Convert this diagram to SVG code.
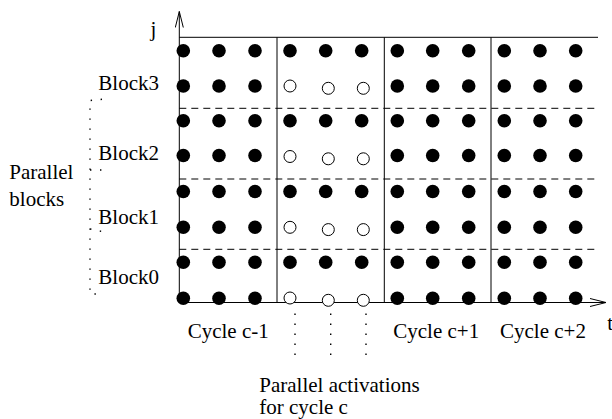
<svg xmlns="http://www.w3.org/2000/svg" xmlns:xlink="http://www.w3.org/1999/xlink" width="612" height="419" viewBox="0 0 612 419">
<style>
.ln{stroke:#000;stroke-width:1;fill:none}
.dash{stroke:#000;stroke-width:1;fill:none;stroke-dasharray:7 5}
.dot{stroke:#000;stroke-width:1.4;fill:none;stroke-dasharray:1.4 8.6}
.t{font-family:"Liberation Serif","Times New Roman",serif;font-size:21px;fill:#000}
.f{fill:#000}
.o{fill:#fff;stroke:#000;stroke-width:1}
</style>
<defs>
<marker id="ah" viewBox="0 0 17 9" refX="16.5" refY="4.5" markerWidth="17" markerHeight="9" markerUnits="userSpaceOnUse" orient="auto">
<path d="M0.5,0.5 L16.5,4.5 L0.5,8.5" fill="none" stroke="#000" stroke-width="1"/>
</marker>
<circle id="fd" class="f" r="6.8"/>
<circle id="od" class="o" r="6"/>
</defs>
<rect width="612" height="419" fill="#fff"/>
<g id="connectors">
<path class="ln" d="M179.3,302.5 L179.3,11.5" marker-end="url(#ah)"/>
<path class="ln" d="M179.3,302.5 L606,302.5" marker-end="url(#ah)"/>
<path class="ln" d="M179.3,37.3 L598,37.3"/>
<path class="ln" d="M277,37.3 L277,302.5 M384.3,37.3 L384.3,302.5 M491,37.3 L491,302.5"/>
<path class="dash" d="M179.3,108.3 L598,108.3 M179.3,179 L598,179 M179.3,249.3 L598,249.3"/>
<path class="dot" d="M102,99.3 L90,100.5 L90,294 L102,294 M90,170 L102,170 M90,229 L102,231.5"/>
<path class="dot" d="M295,313.5 L295,355 M330.7,313.5 L330.7,355 M366,313.5 L366,355"/>
</g>
<g id="cycle-c-1">
<use href="#fd" x="183.3" y="50.7"/><use href="#fd" x="219" y="50.7"/><use href="#fd" x="255" y="50.7"/>
<use href="#fd" x="183.3" y="86"/><use href="#fd" x="219" y="86"/><use href="#fd" x="255" y="86"/>
<use href="#fd" x="183.3" y="120.7"/><use href="#fd" x="219" y="120.7"/><use href="#fd" x="255" y="120.7"/>
<use href="#fd" x="183.3" y="155.5"/><use href="#fd" x="219" y="155.5"/><use href="#fd" x="255" y="155.5"/>
<use href="#fd" x="183.3" y="191.5"/><use href="#fd" x="219" y="191.5"/><use href="#fd" x="255" y="191.5"/>
<use href="#fd" x="183.3" y="227.3"/><use href="#fd" x="219" y="227.3"/><use href="#fd" x="255" y="227.3"/>
<use href="#fd" x="183.3" y="262.3"/><use href="#fd" x="219" y="262.3"/><use href="#fd" x="255" y="262.3"/>
<use href="#fd" x="183.3" y="298.3"/><use href="#fd" x="219" y="298.3"/><use href="#fd" x="255" y="298.3"/>
</g>
<g id="cycle-c">
<use href="#fd" x="290" y="50.7"/><use href="#fd" x="325.7" y="50.7"/><use href="#fd" x="361.7" y="50.7"/>
<use href="#od" x="290" y="86"/><use href="#od" x="328.3" y="88.3"/><use href="#od" x="363.3" y="88.3"/>
<use href="#fd" x="290" y="120.7"/><use href="#fd" x="325.7" y="120.7"/><use href="#fd" x="361.7" y="120.7"/>
<use href="#od" x="290" y="156.5"/><use href="#od" x="328.3" y="158.8"/><use href="#od" x="363.3" y="158.8"/>
<use href="#fd" x="290" y="191.5"/><use href="#fd" x="325.7" y="191.5"/><use href="#fd" x="361.7" y="191.5"/>
<use href="#od" x="290" y="227.3"/><use href="#od" x="328.3" y="229.6"/><use href="#od" x="363.3" y="229.6"/>
<use href="#fd" x="290" y="262.3"/><use href="#fd" x="325.7" y="262.3"/><use href="#fd" x="361.7" y="262.3"/>
<use href="#od" x="290" y="298"/><use href="#od" x="328.3" y="300.3"/><use href="#od" x="363.3" y="300.3"/>
</g>
<g id="cycle-c1">
<use href="#fd" x="397.3" y="50.7"/><use href="#fd" x="432.7" y="50.7"/><use href="#fd" x="468.7" y="50.7"/>
<use href="#fd" x="397.3" y="86"/><use href="#fd" x="432.7" y="86"/><use href="#fd" x="468.7" y="86"/>
<use href="#fd" x="397.3" y="120.7"/><use href="#fd" x="432.7" y="120.7"/><use href="#fd" x="468.7" y="120.7"/>
<use href="#fd" x="397.3" y="155.5"/><use href="#fd" x="432.7" y="155.5"/><use href="#fd" x="468.7" y="155.5"/>
<use href="#fd" x="397.3" y="191.5"/><use href="#fd" x="432.7" y="191.5"/><use href="#fd" x="468.7" y="191.5"/>
<use href="#fd" x="397.3" y="227.3"/><use href="#fd" x="432.7" y="227.3"/><use href="#fd" x="468.7" y="227.3"/>
<use href="#fd" x="397.3" y="262.3"/><use href="#fd" x="432.7" y="262.3"/><use href="#fd" x="468.7" y="262.3"/>
<use href="#fd" x="397.3" y="298.3"/><use href="#fd" x="432.7" y="298.3"/><use href="#fd" x="468.7" y="298.3"/>
</g>
<g id="cycle-c2">
<use href="#fd" x="504.3" y="50.7"/><use href="#fd" x="540" y="50.7"/><use href="#fd" x="575.7" y="50.7"/>
<use href="#fd" x="504.3" y="86"/><use href="#fd" x="540" y="86"/><use href="#fd" x="575.7" y="86"/>
<use href="#fd" x="504.3" y="120.7"/><use href="#fd" x="540" y="120.7"/><use href="#fd" x="575.7" y="120.7"/>
<use href="#fd" x="504.3" y="155.5"/><use href="#fd" x="540" y="155.5"/><use href="#fd" x="575.7" y="155.5"/>
<use href="#fd" x="504.3" y="191.5"/><use href="#fd" x="540" y="191.5"/><use href="#fd" x="575.7" y="191.5"/>
<use href="#fd" x="504.3" y="227.3"/><use href="#fd" x="540" y="227.3"/><use href="#fd" x="575.7" y="227.3"/>
<use href="#fd" x="504.3" y="262.3"/><use href="#fd" x="540" y="262.3"/><use href="#fd" x="575.7" y="262.3"/>
<use href="#fd" x="504.3" y="298.3"/><use href="#fd" x="540" y="298.3"/><use href="#fd" x="575.7" y="298.3"/>
</g>
<g id="labels">
<text class="t" x="150.5" y="36">j</text>
<text class="t" x="607.3" y="330">t</text>
<text class="t" x="98.3" y="90">Block3</text>
<text class="t" x="98.3" y="159.5">Block2</text>
<text class="t" x="98.3" y="223.5">Block1</text>
<text class="t" x="98.3" y="284">Block0</text>
<text class="t" x="9.3" y="179.3">Parallel</text>
<text class="t" x="9.3" y="206">blocks</text>
<text class="t" x="187.7" y="338.3">Cycle c-1</text>
<text class="t" x="393.3" y="338.3">Cycle c+1</text>
<text class="t" x="500" y="338.3">Cycle c+2</text>
<text class="t" x="259.3" y="391.7">Parallel activations</text>
<text class="t" x="259.3" y="414">for cycle c</text>
</g>
</svg>
